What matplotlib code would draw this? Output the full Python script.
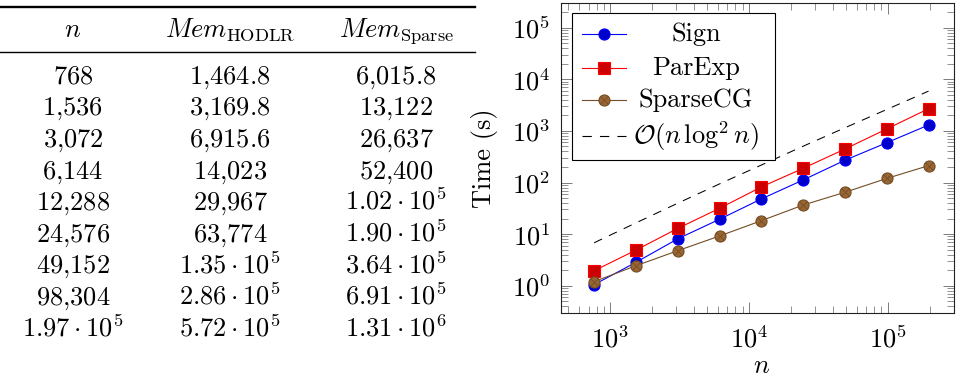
import numpy as np
import matplotlib
matplotlib.use('Agg')
import matplotlib.pyplot as plt
from matplotlib.lines import Line2D
from matplotlib.patches import Rectangle
from matplotlib.ticker import LogLocator, NullFormatter

plt.rcParams['font.family'] = 'serif'
plt.rcParams['font.serif'] = ['cmr10']
plt.rcParams['mathtext.fontset'] = 'cm'
plt.rcParams['axes.formatter.use_mathtext'] = True
plt.rcParams['axes.unicode_minus'] = False

# problem sizes
n = np.array([768, 1536, 3072, 6144, 12288, 24576, 49152, 98304, 196608])

# memory table, as printed
headers = [r'$n$', r'$Mem_{\mathrm{HODLR}}$', r'$Mem_{\mathrm{Sparse}}$']
n_txt = [r'$768$', r'$1{,}536$', r'$3{,}072$', r'$6{,}144$', r'$12{,}288$',
         r'$24{,}576$', r'$49{,}152$', r'$98{,}304$', r'$1.97\cdot10^5$']
mem_hodlr = [r'$1{,}464.8$', r'$3{,}169.8$', r'$6{,}915.6$', r'$14{,}023$', r'$29{,}967$',
             r'$63{,}774$', r'$1.35\cdot10^5$', r'$2.86\cdot10^5$', r'$5.72\cdot10^5$']
mem_sparse = [r'$6{,}015.8$', r'$13{,}122$', r'$26{,}637$', r'$52{,}400$', r'$1.02\cdot10^5$',
              r'$1.90\cdot10^5$', r'$3.64\cdot10^5$', r'$6.91\cdot10^5$', r'$1.31\cdot10^6$']

# timings in seconds
t_sign = [1.05, 2.84, 8.1, 19.4, 48, 112, 270, 590, 1300]
t_parexp = [1.95, 4.9, 12.9, 31.6, 82, 188, 446, 1090, 2690]
t_sparsecg = [1.2, 2.44, 4.77, 9.2, 18.2, 36.6, 64.6, 120, 212]
t_ref = [6.8, 16.5, 39.7, 94, 218, 505, 1150, 2600, 5900]

FS = 19
W, H = 956, 377
fig = plt.figure(figsize=(W / 100, H / 100), dpi=100)


def fx(px):
    return px / W


def fy(py):
    return 1 - py / H


# ---- table ----
col_x = [73, 230, 396]
fig.add_artist(Line2D([0, fx(475)], [fy(6.7)] * 2, color='black', lw=1.7))
fig.add_artist(Line2D([0, fx(475)], [fy(51.7)] * 2, color='black', lw=1.0))
for cx, h in zip(col_x, headers):
    fig.text(fx(cx), fy(37), h, ha='center', va='baseline', fontsize=FS)
for i in range(len(n_txt)):
    yb = fy(83.3 + 31.65 * i)
    for cx, cell in zip(col_x, [n_txt[i], mem_hodlr[i], mem_sparse[i]]):
        fig.text(fx(cx), yb, cell, ha='center', va='baseline', fontsize=FS)

# ---- timing plot ----
ax = fig.add_axes([fx(560.7), fy(312.7), fx(954) - fx(560.7), fy(3.3) - fy(312.7)])
ax.set_xscale('log')
ax.set_yscale('log')

brown_line = '#734d26'
brown_fill = '#996633'
ax.plot(n, t_sign, color='blue', lw=0.8, marker='o', ms=8, mfc='#0000cc', mec='blue', mew=0.8)
ax.plot(n, t_parexp, color='red', lw=0.8, marker='s', ms=8, mfc='#cc0000', mec='red', mew=0.8)
ax.plot(n, t_sparsecg, color=brown_line, lw=0.8, marker='o', ms=8, mfc=brown_fill, mec=brown_line, mew=0.8)
ax.plot(n, t_sparsecg, ls='none', marker='x', ms=5.6, mec=brown_line, mew=0.6)
ax.plot(n, t_ref, color='black', lw=0.75, dashes=(8.4, 7.3))

ax.set_xlim(441, 3.0e5)
ax.set_ylim(0.3, 2.97e5)
ax.xaxis.set_major_locator(LogLocator(base=10, numticks=20))
ax.yaxis.set_major_locator(LogLocator(base=10, numticks=20))
ax.xaxis.set_minor_locator(LogLocator(base=10, subs=np.arange(2, 10), numticks=20))
ax.yaxis.set_minor_locator(LogLocator(base=10, subs=np.arange(2, 10), numticks=20))
ax.xaxis.set_minor_formatter(NullFormatter())
ax.yaxis.set_minor_formatter(NullFormatter())

ax.tick_params(which='both', direction='in', top=True, right=True, color='#666666')
ax.tick_params(which='major', length=7.6, width=0.6, labelsize=FS)
ax.tick_params(which='minor', length=5, width=0.5)
ax.tick_params(axis='x', which='major', pad=9)
ax.tick_params(axis='y', which='major', pad=7.5)
for s in ax.spines.values():
    s.set_linewidth(0.8)
    s.set_color('#222222')

ax.set_ylabel('Time (s)', fontsize=FS)
ax.yaxis.set_label_coords(-0.159, 0.5)
ax.set_xlabel(r'$n$', fontsize=FS)
ax.xaxis.set_label_coords(0.51, -0.134)

# legend with centred entry text
ax.add_patch(Rectangle((0.0295, 0.4935), 0.545 - 0.0295, 0.9696 - 0.4935,
                       transform=ax.transAxes, fc='white', ec='black', lw=0.8, zorder=5))
entries = [
    ('Sign', 0.8997, dict(color='blue', marker='o', mfc='#0000cc', mec='blue')),
    ('ParExp', 0.792, dict(color='red', marker='s', mfc='#cc0000', mec='red')),
    ('SparseCG', 0.6874, dict(color=brown_line, marker='o', mfc=brown_fill, mec=brown_line)),
    (r'$\mathcal{O}(n\,\log^2 n)$', 0.5721, dict(color='black', dashes=(8.4, 7.3))),
]
for label, yy, style in entries:
    line_style = {k: v for k, v in style.items() if k not in ('marker', 'mfc', 'mec')}
    ax.add_line(Line2D([0.0534, 0.166], [yy, yy], transform=ax.transAxes, lw=0.8,
                       zorder=6, **line_style))
    if 'marker' in style:
        ax.add_line(Line2D([0.110], [yy], transform=ax.transAxes, ls='none', marker=style['marker'],
                           ms=8, mfc=style['mfc'], mec=style['mec'], mew=0.8, zorder=7))
    ax.text(0.344, yy, label, transform=ax.transAxes, ha='center', va='center',
            fontsize=FS, zorder=7)
ax.add_line(Line2D([0.110], [0.6874], transform=ax.transAxes, ls='none', marker='x',
                   ms=5.6, mec=brown_line, mew=0.6, zorder=8))

fig.savefig('out.png', dpi=100)
